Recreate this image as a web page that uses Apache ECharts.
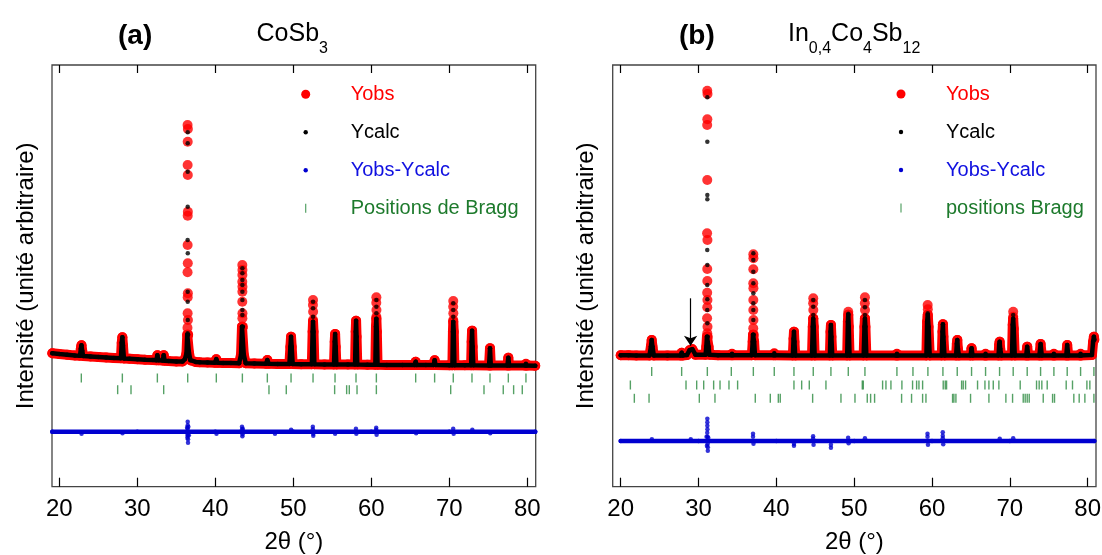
<!DOCTYPE html>
<html>
<head>
<meta charset="utf-8">
<script src="https://cdn.jsdelivr.net/npm/echarts@6/dist/echarts.min.js"></script>
<style>
html,body{margin:0;padding:0;background:#fff;}
#chart{width:1102px;height:555px;}
</style>
</head>
<body>
<div id="chart"></div>
<script>
// ---------- tick labels ----------
const ticksX = [20, 30, 40, 50, 60, 70, 80];

// ---------- panel (a) CoSb3 ----------
// continuous trace shared by Yobs / Ycalc (background + peak feet)
const profileA = [
[19.1,133.5],[20,132.7],[21,132],[22,131.3],[22.65,131],[22.76,138],[22.84,141.5],[22.93,136],[23.05,130.7],[24,130.3],[25,129.8],[26,129.3],[27,128.8],[27.9,128.5],[28.0,144],[28.08,149.5],[28.16,141],[28.28,128.3],[29,128],[30,127.5],[31,127],[32,126.7],[32.45,126.5],[32.57,131.5],[32.7,126.4],[33.25,126.2],[33.38,131.5],[33.5,126],[34,125.8],[35,125.3],[35.8,125.3],[36.1,127.5],[36.3,133],[36.4,152],[36.52,152],[36.62,134],[36.8,126.5],[37.5,124.8],[38,124.5],[39,124.2],[39.95,124],[40.13,127.5],[40.3,124],[41,123.8],[42,123.6],[43.05,123.5],[43.3,132],[43.42,160],[43.53,160],[43.65,132],[43.9,123.5],[45,123.2],[46.5,123],[46.67,126.7],[46.85,123],[48,122.8],[49.5,122.7],[49.63,140],[49.71,150],[49.79,140],[49.92,122.7],[51,122.5],[52.38,122.5],[52.48,155],[52.53,165],[52.59,155],[52.7,122.5],[54,122.3],[55.22,122.3],[55.31,145],[55.36,152.7],[55.43,140],[55.52,122.3],[57,122.2],[57.92,122.2],[58.0,155],[58.05,166],[58.11,150],[58.2,122.2],[59.5,122],[60.52,122],[60.6,160],[60.65,168],[60.71,155],[60.8,122],[62,121.8],[64,121.7],[65.55,121.7],[65.69,125],[65.83,121.7],[67,121.6],[68,121.6],[68.12,126.5],[68.25,121.6],[70,121.5],[70.4,121.5],[70.47,155],[70.51,165],[70.57,155],[70.66,121.5],[72,121.4],[72.8,121.4],[72.87,145],[72.92,156],[72.99,140],[73.08,121.4],[75.1,121.3],[75.22,138.4],[75.32,121.3],[77.45,121.2],[77.57,129],[77.68,121.2],[79.75,121.1],[79.83,123],[79.92,121.1],[81.02,121]
];
const obsDotsA = [
[36.44,361.7],[36.48,357.7],[36.46,345],[36.45,321.7],[36.47,311.7],[36.48,275],[36.46,271],[36.45,241.7],[36.47,223.4],[36.44,214.4],[36.48,193.4],[36.46,189.4],[36.45,173.4],[36.49,166.7],[36.43,159],[36.5,151.7],
[43.46,221.7],[43.48,216.7],[43.47,211.7],[43.46,205],[43.48,200],[43.47,195],[43.46,185],[43.48,173.4],[43.47,168.4],[43.46,158.4],
[52.53,186.7],[52.52,181.7],[52.54,175],[52.53,166.7],
[60.65,189.4],[60.64,184],[60.66,176.7],[60.65,170],
[70.51,185.7],[70.5,180],[70.52,173.4],[70.51,166.7]
];
const calcDotsA = [
[36.46,354.4],[36.46,343.4],[36.46,315],[36.46,280],[36.45,246.7],[36.47,233.4],[36.46,195],[36.46,185],[36.47,166.7],[36.45,153.4],
[43.47,218.4],[43.47,213.4],[43.47,206.7],[43.47,201.7],[43.47,195],[43.47,186.7],[43.47,176.7],[43.47,171.7],[43.47,160],
[52.53,185],[52.53,178.4],[52.53,170],
[60.65,186.7],[60.65,180],[60.65,173.4],
[70.51,183.4],[70.51,176.7],[70.51,170]
];
// Yobs-Ycalc: flat trace + the points that stray from it
const diffLineA = [[19.1,55],[30,55],[40,55],[50,55],[60,55],[70,55],[81.02,55]];
const diffDotsA = [
[22.85,53],[28.1,53.5],
[36.38,59],[36.42,49],[36.44,52],[36.46,65],[36.46,61.5],[36.46,58],[36.5,44],[36.5,47.5],[36.48,51],[36.54,60],[36.6,51.5],
[40.15,53],
[43.42,60],[43.44,57.5],[43.47,50.5],[43.49,52.5],[43.52,58],
[47.65,53],[49.72,57],
[52.5,60],[52.5,57.5],[52.56,51],[52.56,53],
[55.36,53],[58.03,58],[58.08,53],
[60.63,59],[60.63,57],[60.68,52],
[65.75,53.5],[70.5,58],[70.56,53],[72.95,57],[75.25,53.5]
];
const braggA1 = [22.82,28.08,32.57,36.46,40.13,43.47,46.67,49.71,52.53,55.35,58.04,60.65,65.69,68.12,70.51,72.91,75.22,77.57,79.83];
const braggA2 = [27.48,29.19,33.38,46.88,49.1,55.3,56.84,57.18,58.17,60.65,70.18,74.45,76.92,78.25,79.36];

// ---------- panel (b) In0,4Co4Sb12 ----------
const profileB = [
[20.0,131.5],[21,131.4],[22,131.3],[23.7,131.3],[23.88,140],[23.98,146.7],[24.08,140],[24.25,131.3],[26,131.3],[27.7,131.3],[27.83,134],[27.96,131.3],[28.5,131.6],[28.85,136.5],[29.2,137.5],[29.6,132],[30.9,132],[31.0,140],[31.08,150],[31.18,150],[31.28,140],[31.4,132],[32.5,131.5],[34.2,131.5],[34.3,133],[34.4,131.5],[36.85,131.5],[36.96,145],[37.0,152],[37.09,152],[37.14,145],[37.25,131.5],[39.62,131.5],[39.73,133.5],[39.84,131.5],[42.12,131.3],[42.21,148],[42.26,155],[42.32,145],[42.42,131.3],[44.58,131.3],[44.68,160],[44.74,168],[44.8,160],[44.92,131.3],[46.88,131.3],[46.96,155],[47.01,161.7],[47.07,150],[47.18,131.3],[49.1,131.3],[49.19,165],[49.24,172],[49.3,160],[49.4,131.3],[51.22,131.3],[51.32,160],[51.38,168],[51.44,160],[51.56,131.3],[55.38,131.3],[55.49,133],[55.6,131.3],[59.28,131.3],[59.37,165],[59.45,172],[59.55,160],[59.7,131.3],[61.26,131.3],[61.35,155],[61.4,162.4],[61.46,150],[61.6,131.3],[63.1,131.3],[63.19,143],[63.25,146.7],[63.32,138],[63.45,131.3],[64.95,131.3],[65.08,138.4],[65.21,131.3],[66.78,131.3],[66.88,133],[66.98,131.3],[68.55,131.3],[68.63,142],[68.69,145],[68.76,138],[68.9,131.3],[70.28,131.3],[70.37,162],[70.43,168],[70.5,158],[70.63,131.3],[72.1,131.3],[72.23,140],[72.36,131.3],[73.8,131.3],[73.95,142.7],[74.1,131.3],[75.55,131.3],[75.66,133],[75.77,131.3],[77.25,131.3],[77.37,141.7],[77.5,131.3],[79.0,131.3],[79.09,133],[79.18,131.3],[80.55,131.8],[80.7,145],[80.8,150],[80.85,147]
];
const obsDotsB = [
[31.12,396],[31.15,392.7],[31.13,367.4],[31.11,361.7],[31.12,306.7],[31.1,253.4],[31.14,246.7],[31.12,217.7],[31.13,205.7],[31.11,194],[31.14,186.7],[31.12,179.4],[31.1,168.4],[31.15,160],[31.12,153.4],
[37.04,232.4],[37.05,228.4],[37.04,217.4],[37.03,203.4],[37.05,198.4],[37.04,186.7],[37.04,176.7],[37.05,166.7],[37.03,158.4],
[44.74,188.4],[44.73,183.4],[44.75,176.7],[44.74,168.4],
[49.24,175],
[51.38,189.4],[51.37,183.4],[51.39,176.7],[51.38,168.4],
[59.44,181.7],[59.46,177.4],[59.45,170],
[70.43,175],[70.43,170]
];
const calcDotsB = [
[31.13,389.4],[31.13,345],[31.13,291.7],[31.13,287.4],[31.12,236.7],[31.13,221.7],[31.12,201.7],[31.13,187.4],[31.12,176.7],[31.13,163.4],
[37.04,233.4],[37.04,226.7],[37.04,215],[37.04,203.4],[37.04,193.4],[37.04,183.4],[37.04,176.7],[37.04,166.7],
[44.74,186.7],[44.74,180],[44.74,171.7],
[49.24,173],
[51.38,186.7],[51.38,179.4],[51.38,171.7],
[59.45,173.4],
[70.43,171.7]
];
const diffLineB = [[20,45.7],[30,45.7],[40,45.7],[50,45.7],[60,45.7],[70,45.7],[80.85,45.7]];
const diffDotsB = [
[24.0,47.5],[29.0,47.5],
[31.03,50],[31.08,41],[31.13,68],[31.13,64.5],[31.13,61],[31.14,57.5],[31.12,54],[31.16,50],[31.19,36],[31.19,39.5],[31.18,43],[31.25,49],
[37.0,53],[37.0,50],[37.06,43],
[42.26,41],[42.26,43],
[44.72,50.5],[44.72,48],[44.78,42],
[47.01,39],[47.01,42],
[49.22,49],[49.28,43.5],[51.38,48.5],
[59.42,53],[59.42,50],[59.48,42],
[61.38,54.5],[61.38,51],[61.38,48.5],[61.44,42.5],
[68.7,48],[70.43,48.5]
];
const braggB1 = [23.98,27.83,31.13,34.21,37.04,39.73,42.26,44.74,47.01,49.24,51.38,55.49,57.55,59.47,61.4,63.24,65.08,66.88,68.68,70.43,72.23,73.95,75.66,77.37,79.09,80.8];
const braggB2 = [21.24,28.39,29.76,30.66,31.94,32.76,33.91,35.02,42.26,43.25,44.23,46.37,51.04,51.17,53.65,54.08,54.72,56.13,57.5,58.02,58.32,58.79,61.44,61.7,61.87,63.8,64.01,64.31,65.85,66.8,67.31,67.87,68.59,71.33,73.43,73.77,74.11,74.8,77.24,78.05,79.9,80.28];
const braggB3 = [21.75,23.64,30.1,32.11,37.29,39.22,40.25,40.5,44.66,48.3,50.1,51.68,52.11,52.62,56.09,57.37,58.79,59.22,62.64,62.81,63.07,64.95,67.31,69.49,70.35,71.72,71.97,72.23,72.49,74.29,75.49,75.74,78.22,78.91,79.64,80.8];

// ---------- styling ----------
const FONT = "'Liberation Sans', Arial, Helvetica, sans-serif";
const RED = '#ff0000', BLACK = '#000000', BLUE = '#0000d0', GREEN = '#2b8a3e', GREEN_TXT = '#1d7a2c';

const chart = echarts.init(document.getElementById('chart'), null, {renderer: 'canvas'});

function xAxes(gridIndex, min, max) {
  return [
    {type: 'value', gridIndex, position: 'bottom', min, max,
     name: '2\u03b8 (\u00b0)', nameLocation: 'middle', nameGap: 44,
     nameTextStyle: {fontFamily: FONT, fontSize: 24, color: '#000'},
     axisLine: {show: false},
     axisTick: {show: true, inside: true, length: 9, customValues: ticksX, lineStyle: {color: '#000', width: 1.2}},
     axisLabel: {show: true, customValues: ticksX, margin: 11, fontFamily: FONT, fontSize: 24, color: '#000'},
     splitLine: {show: false}},
    {type: 'value', gridIndex, position: 'top', min, max,
     axisLine: {show: false},
     axisTick: {show: true, inside: true, length: 8, customValues: ticksX, lineStyle: {color: '#000', width: 1.2}},
     axisLabel: {show: false}, splitLine: {show: false}}
  ];
}
function yAxis(gridIndex, gap) {
  return {type: 'value', gridIndex, min: 0, max: 421.7,
    name: 'Intensit\u00e9 (unit\u00e9 arbitraire)', nameLocation: 'middle', nameGap: gap,
    nameTextStyle: {fontFamily: FONT, fontSize: 24, color: '#000'},
    axisLine: {show: false}, axisTick: {show: false}, axisLabel: {show: false}, splitLine: {show: false}};
}
function panelSeries(xi, yi, profile, obsDots, calcDots, diffLine, diffDots, braggRows, braggName, rowLevels, extra) {
  const s = [
    {name: 'Yobs', type: 'line', xAxisIndex: xi, yAxisIndex: yi, data: profile,
     symbol: 'circle', symbolSize: 10, showSymbol: true, itemStyle: {color: RED},
     lineStyle: {color: RED, width: 10, join: 'round', cap: 'round'}, z: 2, silent: true},
    {name: 'Yobs', type: 'scatter', xAxisIndex: xi, yAxisIndex: yi, data: obsDots,
     symbol: 'circle', symbolSize: 10, itemStyle: {color: RED}, z: 2, silent: true},
    {name: 'Ycalc', type: 'line', xAxisIndex: xi, yAxisIndex: yi, data: profile,
     symbol: 'circle', symbolSize: 4.5, showSymbol: true, itemStyle: {color: BLACK},
     lineStyle: {color: BLACK, width: 4.5, join: 'round', cap: 'round'}, z: 3, silent: true},
    {name: 'Ycalc', type: 'scatter', xAxisIndex: xi, yAxisIndex: yi, data: calcDots,
     symbol: 'circle', symbolSize: 4.5, itemStyle: {color: BLACK}, z: 3, silent: true},
    {name: 'Yobs-Ycalc', type: 'line', xAxisIndex: xi, yAxisIndex: yi, data: diffLine,
     symbol: 'circle', symbolSize: 4.5, showSymbol: true, itemStyle: {color: BLUE},
     lineStyle: {color: BLUE, width: 4.5, cap: 'round'}, z: 3, silent: true},
    {name: 'Yobs-Ycalc', type: 'scatter', xAxisIndex: xi, yAxisIndex: yi, data: diffDots,
     symbol: 'circle', symbolSize: 4.5, itemStyle: {color: BLUE}, z: 3, silent: true}
  ];
  braggRows.forEach((row, k) => {
    s.push({name: braggName, type: 'scatter', xAxisIndex: xi, yAxisIndex: yi,
      data: row.map(x => [x, rowLevels[k]]),
      symbol: 'rect', symbolSize: [1.4, 9], itemStyle: {color: GREEN}, z: 3, silent: true});
  });
  if (extra) Object.assign(s[0], extra);
  return s;
}
function legendIcon(kind) {
  // 80x20 box, symbol centred in it
  if (kind === 'big') return 'path://M0,0M80,20M35.5,10a4.5,4.5 0 1,0 9,0a4.5,4.5 0 1,0 -9,0z';
  if (kind === 'small') return 'path://M0,0M80,20M37.8,10a2.2,2.2 0 1,0 4.4,0a2.2,2.2 0 1,0 -4.4,0z';
  return 'path://M0,0M80,20M39.4,5.5L40.6,5.5L40.6,14.5L39.4,14.5z';
}
function legend(left, top, braggName) {
  return {orient: 'vertical', left, top, padding: 0, itemWidth: 80, itemHeight: 20, itemGap: 18,
    selectedMode: false, textStyle: {fontFamily: FONT, fontSize: 20},
    data: [
      {name: 'Yobs', icon: legendIcon('big'), itemStyle: {color: RED, borderWidth: 0}, textStyle: {color: RED}},
      {name: 'Ycalc', icon: legendIcon('small'), itemStyle: {color: BLACK, borderWidth: 0}, textStyle: {color: BLACK}},
      {name: 'Yobs-Ycalc', icon: legendIcon('small'), itemStyle: {color: BLUE, borderWidth: 0}, textStyle: {color: '#1010e0'}},
      {name: braggName, icon: legendIcon('bar'), itemStyle: {color: GREEN, borderWidth: 0}, textStyle: {color: GREEN_TXT}}
    ]};
}
const richTitle = {
  m: {fontFamily: FONT, fontSize: 25, fontWeight: 'normal', color: '#000', verticalAlign: 'bottom', padding: [0, 0, 10, 0]},
  s: {fontFamily: FONT, fontSize: 16, fontWeight: 'normal', color: '#000', verticalAlign: 'bottom'}
};

const option = {
  animation: false,
  backgroundColor: '#fff',
  title: [
    {text: '(a)', left: 118, top: 22, padding: 0, textStyle: {fontFamily: FONT, fontSize: 28, fontWeight: 'bold', color: '#000'}},
    {text: '{m|CoSb}{s|3}', left: 256.5, top: 22, padding: 0, textStyle: {fontWeight: 'normal', rich: richTitle}},
    {text: '(b)', left: 679, top: 22, padding: 0, textStyle: {fontFamily: FONT, fontSize: 28, fontWeight: 'bold', color: '#000'}},
    {text: '{m|In}{s|0,4}{m|Co}{s|4}{m|Sb}{s|12}', left: 788, top: 22, padding: 0, textStyle: {fontWeight: 'normal', rich: richTitle}}
  ],
  grid: [
    {left: 52, top: 65, width: 483.7, height: 421.7, containLabel: false, outerBoundsMode: 'none',
     show: true, borderColor: '#444', borderWidth: 1.3, backgroundColor: 'transparent'},
    {left: 612.7, top: 65, width: 483.3, height: 421.7, containLabel: false, outerBoundsMode: 'none',
     show: true, borderColor: '#444', borderWidth: 1.3, backgroundColor: 'transparent'}
  ],
  xAxis: [...xAxes(0, 19.06, 81.08), ...xAxes(1, 18.97, 81.07)],
  yAxis: [yAxis(0, 14), yAxis(1, 14)],
  legend: [legend(265.7, 84.3, 'Positions de Bragg'), legend(861, 84, 'positions Bragg')],
  series: [
    ...panelSeries(0, 0, profileA, obsDotsA, calcDotsA, diffLineA, diffDotsA, [braggA1, braggA2], 'Positions de Bragg', [108.7, 97]),
    ...panelSeries(2, 1, profileB, obsDotsB, calcDotsB, diffLineB, diffDotsB, [braggB1, braggB2, braggB3], 'positions Bragg', [115.2, 101.7, 88.4], {
      markLine: {silent: true, symbol: ['none', 'arrow'], symbolSize: 10, label: {show: false},
        lineStyle: {color: '#000', width: 1.2, type: 'solid'}, emphasis: {disabled: true},
        data: [[{coord: [28.98, 188.4]}, {coord: [28.98, 141]}]]}
    })
  ]
};
chart.setOption(option);
</script>
</body>
</html>
